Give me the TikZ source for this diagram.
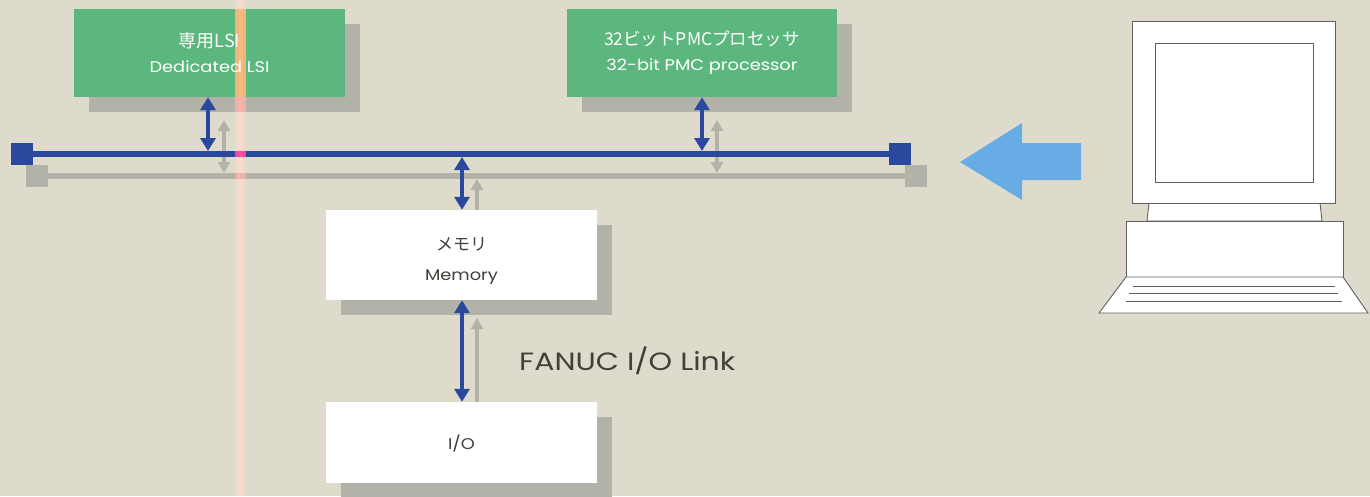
\documentclass[tikz,border=0pt]{standalone}
\usepackage{fontspec}
\setmainfont[FakeStretch=1.15]{Poppins}
\newfontfamily\jpfont{Noto Sans CJK JP}
\newfontfamily\widefont[FakeStretch=1.2]{Poppins}
\usetikzlibrary{arrows.meta}
\definecolor{paper}{RGB}{222,219,205}
\definecolor{lsigreen}{RGB}{92,183,126}
\definecolor{shadowgray}{RGB}{178,178,168}
\definecolor{busblue}{RGB}{42,72,158}
\definecolor{linkblue}{RGB}{104,172,230}
\definecolor{txtdark}{RGB}{62,66,58}
\definecolor{pcline}{RGB}{95,95,95}
\definecolor{streak}{RGB}{248,80,70}
\definecolor{streakhalo}{RGB}{234,70,60}
\tikzset{
  chipbox/.style={fill=lsigreen, minimum width=271pt, minimum height=88pt,
    text=white, font=\fontsize{15.5}{25}\selectfont, align=center, inner sep=0pt},
  membox/.style={fill=white, minimum width=271pt, inner sep=0pt,
    text=txtdark, font=\fontsize{15.5}{30}\selectfont, align=center},
  shadowbox/.style={fill=shadowgray, inner sep=0pt},
  busend/.style={fill=busblue, minimum size=22pt, inner sep=0pt},
  busendshadow/.style={fill=shadowgray, minimum size=22pt, inner sep=0pt},
  busline/.style={busblue, line width=6pt},
  buslineshadow/.style={shadowgray, line width=6pt},
  barrow/.style={busblue, line width=4pt,
    {Triangle[width=15pt,length=13pt]}-{Triangle[width=15pt,length=13pt]}},
  garrow/.style={shadowgray, line width=4pt,
    {Triangle[width=12pt,length=11pt]}-{Triangle[width=12pt,length=11pt]}},
  pcpart/.style={fill=white, draw=pcline, line width=0.9pt, line join=miter},
}
\begin{document}
\begin{tikzpicture}[x=1pt,y=-1pt]
\fill[paper] (0,0) rectangle (1370,496);
\useasboundingbox (0,0) rectangle (1370,496);

% drop shadows of the blocks
\node[shadowbox, minimum width=271pt, minimum height=88pt] (lsiS) at (224.5,68) {};
\node[shadowbox, minimum width=270pt, minimum height=88pt] (pmcS) at (717,68) {};
\node[shadowbox, minimum width=271pt, minimum height=90pt] (memS) at (476.5,270) {};
\node[shadowbox, minimum width=271pt, minimum height=81pt] (ioS) at (476.5,457.5) {};

% shadow bus and shadow arrows
\node[busendshadow] (busLS) at (37,176) {};
\node[busendshadow] (busRS) at (915.5,176) {};
\draw[buslineshadow] (busLS.center) -- (busRS.center);
\coordinate (gLsiTop) at (224,120);
\coordinate (gLsiBot) at (224,173);
\coordinate (gPmcTop) at (717,120);
\coordinate (gPmcBot) at (717,173);
\coordinate (gMemTop) at (477,179);
\coordinate (gMemBot) at (477,236);
\coordinate (gIoTop) at (477,318);
\coordinate (gIoBot) at (477,420);
\draw[garrow] (gLsiTop) -- (gLsiBot);
\draw[garrow] (gPmcTop) -- (gPmcBot);
\draw[garrow] (gMemTop) -- (gMemBot);
\draw[garrow] (gIoTop) -- (gIoBot);

% blocks
\node[chipbox] (lsi) at (209.5,53)
  {{\jpfont\fontsize{18}{25}\selectfont 専用LSI}\\Dedicated LSI};
\node[chipbox, minimum width=270pt] (pmc) at (702,53)
  {{\jpfont\fontsize{17.5}{25}\selectfont 32ビットPMCプロセッサ}\\32-bit PMC processor};
\node[membox, minimum height=90pt] (mem) at (461.5,255)
  {\rule{0pt}{24pt}{\jpfont\fontsize{17}{30}\selectfont メモリ}\\Memory};
\node[membox, minimum height=81pt] (io) at (461.5,442.5) {\rule{0pt}{16pt}I/O};

% main bus
\node[busend] (busL) at (21.5,154) {};
\node[busend] (busR) at (900,154) {};
\draw[busline] (busL.center) -- (busR.center);

% bus connections
\coordinate (lsiBus) at (208,151);
\coordinate (pmcBus) at (702,151);
\coordinate (memBus) at (462,157);
\draw[barrow] (lsi.south -| lsiBus) -- (lsiBus);
\draw[barrow] (pmc.south -| pmcBus) -- (pmcBus);
\draw[barrow] (memBus) -- (mem.north -| memBus);
\draw[barrow] (mem.south -| memBus) -- (io.north -| memBus);

\node[text=txtdark, font=\widefont\fontsize{25}{28}\selectfont, anchor=west, inner sep=0pt]
  (link) at (519,361) {FANUC I/O Link};

% transfer arrow
\fill[linkblue] (960,162) -- (1022,123) -- (1022,143) -- (1081,143)
  -- (1081,180) -- (1022,180) -- (1022,200) -- cycle;

% personal computer
\draw[pcpart] (1149,203) -- (1147,221) -- (1322,221) -- (1320,203) -- cycle;
\draw[pcpart] (1132,21) rectangle (1335,203);
\draw[pcpart] (1155,43) rectangle (1313,182);
\draw[pcpart] (1126,221) rectangle (1343,277);
\draw[pcpart] (1126,277) -- (1343,277) -- (1368,313) -- (1099,313) -- cycle;
\draw[pcline, line width=0.9pt] (1133,286) -- (1335,286)
  (1129,293.5) -- (1338,293.5) (1126,301) -- (1342,301);

% light streak across the page
\begin{scope}[blend mode=lighten]
\fill[streakhalo] (235,0) rectangle (246,496);
\fill[streak] (238,0) rectangle (243,496);
\end{scope}
\end{tikzpicture}
\end{document}
